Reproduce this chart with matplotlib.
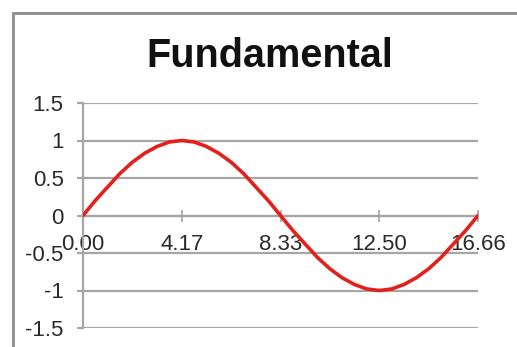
import numpy as np
import matplotlib.pyplot as plt
from matplotlib.patches import Rectangle

# one period of the fundamental, sampled at 1/32 period steps
t = [0.00, 0.52, 1.04, 1.56, 2.08, 2.60, 3.12, 3.64, 4.17, 4.69, 5.21,
     5.73, 6.25, 6.77, 7.29, 7.81, 8.33, 8.85, 9.37, 9.89, 10.41, 10.93,
     11.45, 11.97, 12.50, 13.02, 13.54, 14.06, 14.58, 15.10, 15.62, 16.14, 16.66]
amp = [0.00, 0.20, 0.38, 0.56, 0.71, 0.83, 0.92, 0.98, 1.00, 0.98, 0.92,
       0.83, 0.71, 0.56, 0.38, 0.20, 0.00, -0.20, -0.38, -0.56, -0.71, -0.83,
       -0.92, -0.98, -1.00, -0.98, -0.92, -0.83, -0.71, -0.56, -0.38, -0.20, 0.00]

x_ticks = [0.00, 4.17, 8.33, 12.50, 16.66]
x_labels = ['0.00', '4.17', '8.33', '12.50', '16.66']
y_ticks = [-1.5, -1, -0.5, 0, 0.5, 1, 1.5]
y_labels = ['-1.5', '-1', '-0.5', '0', '0.5', '1', '1.5']

plt.rcParams['font.family'] = ['Liberation Sans', 'DejaVu Sans']
grid_c = '#a6a6a6'
text_c = '#2a2a2a'

fig = plt.figure(figsize=(5.17, 3.47), dpi=100)
fig.patch.set_facecolor('white')

# chart frame (runs off the right and bottom edges)
fig.patches.append(Rectangle((13 / 517, -0.05), 1.2, 1 - 13 / 347 + 0.05,
                             transform=fig.transFigure, fill=False,
                             edgecolor='#8c8c8c', linewidth=2.0))

fig.text(270 / 517, 1 - 56 / 347, 'Fundamental', ha='center', va='center',
         fontsize=28.5, fontweight='bold', color='#111111')

ax = fig.add_axes([83 / 517, 1 - 328 / 347, (478 - 83) / 517, 225 / 347])
ax.set_xlim(0, 16.66)
ax.set_ylim(-1.5, 1.5)

for y in y_ticks:
    ax.axhline(y, color=grid_c, linewidth=1.6, zorder=1)

ax.plot(t, amp, color='#e3211c', linewidth=2.6, zorder=3, solid_capstyle='round')

for s in ['top', 'right']:
    ax.spines[s].set_visible(False)
ax.spines['left'].set_color(grid_c)
ax.spines['left'].set_linewidth(1.6)
ax.spines['bottom'].set_position(('data', 0))
ax.spines['bottom'].set_color(grid_c)
ax.spines['bottom'].set_linewidth(1.6)

ax.set_yticks(y_ticks)
ax.set_yticklabels(y_labels)
ax.tick_params(axis='y', direction='out', length=4, width=1.6, color=grid_c,
               labelsize=16, labelcolor=text_c, pad=10)

ax.set_xticks(x_ticks)
ax.set_xticklabels(x_labels)
ax.tick_params(axis='x', direction='inout', length=8, width=1.2, color=grid_c,
               labelsize=16, labelcolor=text_c, pad=9)

fig.savefig('out.png', dpi=100)
